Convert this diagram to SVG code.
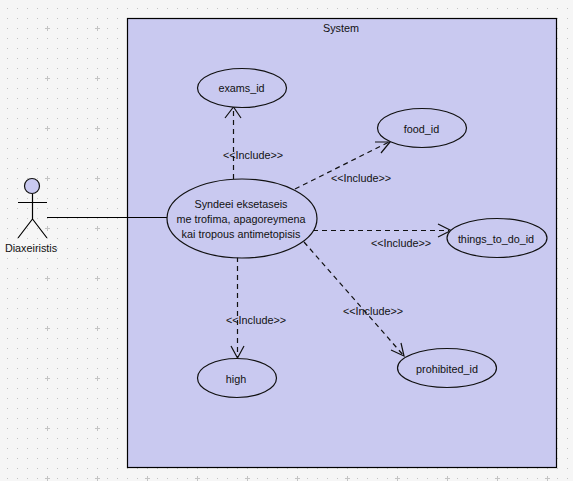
<svg xmlns="http://www.w3.org/2000/svg" width="573" height="481" viewBox="0 0 573 481">
<style>
text{font-family:"Liberation Sans",Arial,sans-serif;font-size:10.8px;fill:#111;text-anchor:middle}
.uc{fill:#c9c9f0;stroke:#111;stroke-width:1.2}
.dash{fill:none;stroke:#111;stroke-width:1.2;stroke-dasharray:5 4}
.head{fill:none;stroke:#111;stroke-width:1.2}
.line{fill:none;stroke:#000;stroke-width:1.2}
</style>
<defs>
<pattern id="dots" x="7" y="8" width="10" height="10" patternUnits="userSpaceOnUse"><rect width="1" height="1" fill="#c4c4c4"/></pattern>
<pattern id="cross" x="42" y="23" width="50" height="50" patternUnits="userSpaceOnUse"><path d="M5 2.500V7.500M2.500 5H7.500" stroke="#c4c4c4" stroke-width="1" fill="none" shape-rendering="crispEdges"/></pattern>
</defs>
<rect width="573" height="481" fill="#f6f6f6"/>
<rect width="573" height="481" fill="url(#dots)"/>
<rect width="573" height="481" fill="url(#cross)"/>
<g id="system">
<rect x="127.500" y="18.500" width="429" height="449" fill="#c9c9f0" stroke="#000" stroke-width="1.200"/>
<text x="341" y="32">System</text>
</g>
<g id="connectors">
<path class="line" d="M47 217.500H167"/>
<path class="dash" d="M233.500 179V108"/><path class="head" d="M225 118L233.500 107L241 118"/>
<path class="dash" d="M295 189L389 142"/><path class="head" d="M375 142L390 142L381 153"/>
<path class="dash" d="M313 230.500H449"/><path class="head" d="M438 224L451 230.500L438 237"/>
<path class="dash" d="M304 242L404 356"/><path class="head" d="M391 350L404 356L401 343"/>
<path class="dash" d="M237.500 257V357"/><path class="head" d="M231 346L237.500 358L244 346"/>
</g>
<g id="actor">
<circle cx="32" cy="186" r="7.500" fill="#c9c9f0" stroke="#111" stroke-width="1.200"/>
<path class="line" d="M32.500 194V219M18 202.500H47M32.500 219L18 238M32.500 219L47 238"/>
<text x="31" y="252">Diaxeiristis</text>
</g>
<g id="uc-main"><ellipse class="uc" cx="242" cy="218.500" rx="75" ry="39.500"/>
<text x="241" y="208">Syndeei eksetaseis</text><text x="241" y="223">me trofima, apagoreymena</text><text x="241" y="238">kai tropous antimetopisis</text></g>
<g id="uc-exams"><ellipse class="uc" cx="242" cy="88" rx="44.500" ry="19.500"/><text x="241.500" y="92">exams_id</text></g>
<g id="uc-food"><ellipse class="uc" cx="422" cy="128" rx="44.500" ry="19.500"/><text x="421.500" y="133">food_id</text></g>
<g id="uc-things"><ellipse class="uc" cx="497" cy="238" rx="50" ry="19.500"/><text x="496" y="243">things_to_do_id</text></g>
<g id="uc-prohibited"><ellipse class="uc" cx="447" cy="368" rx="49.500" ry="19.500"/><text x="447" y="373">prohibited_id</text></g>
<g id="uc-high"><ellipse class="uc" cx="237" cy="378" rx="39.500" ry="19.500"/><text x="236" y="383">high</text></g>
<g id="labels">
<text x="253" y="159">&lt;&lt;Include&gt;&gt;</text>
<text x="361" y="182">&lt;&lt;Include&gt;&gt;</text>
<text x="401" y="247">&lt;&lt;Include&gt;&gt;</text>
<text x="373" y="315">&lt;&lt;Include&gt;&gt;</text>
<text x="256" y="324">&lt;&lt;Include&gt;&gt;</text>
</g>
</svg>
